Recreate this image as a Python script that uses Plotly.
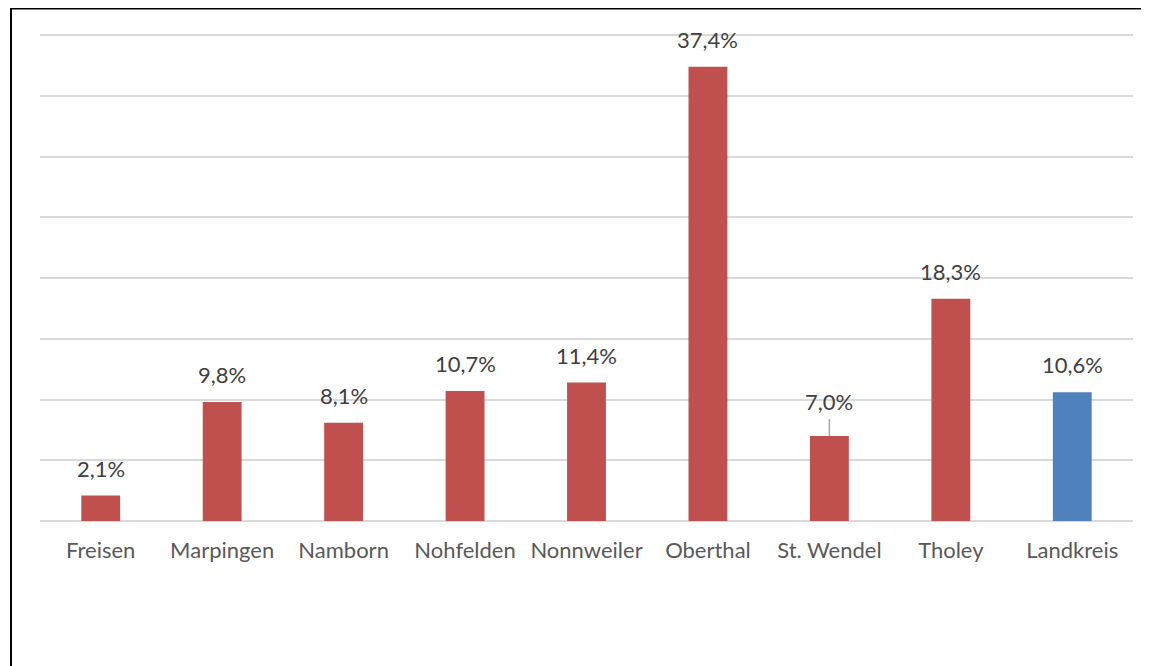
import plotly.graph_objects as go

categories = ["Freisen", "Marpingen", "Namborn", "Nohfelden", "Nonnweiler",
              "Oberthal", "St. Wendel", "Tholey", "Landkreis"]
values = [2.1, 9.8, 8.1, 10.7, 11.4, 37.4, 7.0, 18.3, 10.6]
colors = ["#C0504D"] * 8 + ["#4F81BD"]
labels = [f"{v:.1f}%".replace(".", ",") for v in values]

FONT = "Lato, Carlito, Calibri, sans-serif"
FS = 22

fig = go.Figure()
fig.add_trace(go.Bar(x=categories, y=values, marker=dict(color=colors, line=dict(width=0)),
                     width=0.32, hoverinfo="skip"))

annotations = []
for c, v, t in zip(categories, values, labels):
    if c == "St. Wendel":
        annotations.append(dict(x=c, y=v, xref="x", yref="y", text=t, showarrow=True,
                                ax=0, ay=-34, arrowhead=0, arrowwidth=1.5, arrowcolor="#A6A6A6",
                                standoff=0, startstandoff=2,
                                font=dict(family=FONT, size=FS, color="#404040")))
    else:
        annotations.append(dict(x=c, y=v, xref="x", yref="y", text=t, showarrow=False,
                                yanchor="bottom", yshift=12,
                                font=dict(family=FONT, size=FS, color="#404040")))

# page is offset by the browser's 8px body margin
W, H = 1141, 658
L, R, T, B = 32, 16, 26, 145
pw, ph = W - L - R, H - T - B

def px(xp):
    return (xp - L) / pw

def py(yp):
    return (H - B - yp) / ph

shapes = [
    dict(type="line", xref="paper", yref="paper", x0=px(2), x1=px(W), y0=py(0.5), y1=py(0.5),
         line=dict(color="black", width=2)),
    dict(type="line", xref="paper", yref="paper", x0=px(3), x1=px(3), y0=py(0), y1=py(H),
         line=dict(color="black", width=2)),
]

fig.update_layout(
    width=W, height=H,
    margin=dict(l=L, r=R, t=T, b=B),
    paper_bgcolor="white", plot_bgcolor="white",
    showlegend=False,
    annotations=annotations,
    shapes=shapes,
    xaxis=dict(showgrid=False, showline=False, ticks="", zeroline=False,
               ticklabelstandoff=14,
               tickfont=dict(family=FONT, size=FS, color="#595959")),
    yaxis=dict(range=[0, 40.1], dtick=5, showticklabels=False, showgrid=True,
               gridcolor="#D9D9D9", gridwidth=1.5, zeroline=True, zerolinecolor="#D9D9D9",
               zerolinewidth=1.5, showline=False, ticks=""),
)

fig.write_html("out.html")
